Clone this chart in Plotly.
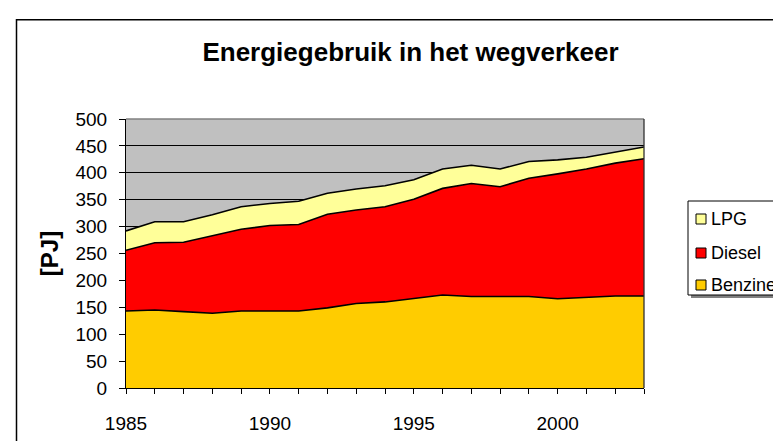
import plotly.graph_objects as go

years = list(range(1985, 2004))
benzine = [143, 145, 142, 139, 143, 143, 143, 149, 157, 160, 166, 173, 170, 170, 170, 166, 169, 171, 171]
diesel = [113, 125, 129, 144, 152, 159, 161, 174, 174, 177, 185, 198, 210, 204, 220, 232, 238, 247, 255]
lpg = [36, 39, 38, 39, 42, 41, 43, 39, 39, 39, 36, 36, 34, 33, 31, 26, 22, 21, 22]

series_names = ["Benzine", "Diesel", "LPG"]
series_values = [benzine, diesel, lpg]
series_colors = ["#FFCC00", "#FF0000", "#FFFF99"]
xtick_text = [str(y) if y % 5 == 0 else "" for y in years]
yticks = list(range(0, 501, 50))

FONT = "Liberation Sans, Arial, sans-serif"

# plot-area geometry in pixels (used to place paper-referenced decorations)
L, R, T, B = 118, 636, 111, 380
W, H = R - L, B - T


def px(x):
    return (x - L) / W


def py(y):
    return (B - y) / H


fig = go.Figure()
for name, vals, col in zip(series_names, series_values, series_colors):
    fig.add_trace(go.Scatter(
        x=years, y=vals, name=name, stackgroup="one", mode="lines",
        line=dict(color="black", width=1.6), fillcolor=col, showlegend=False,
        hoverinfo="x+y+name"))

shapes = [
    # outer chart frame
    dict(type="rect", xref="paper", yref="paper", x0=px(8.5), x1=px(790),
         y0=py(450), y1=py(11.7), line=dict(color="black", width=1.5), layer="below"),
    # legend shadow
    dict(type="rect", xref="paper", yref="paper", x0=px(683), x1=px(800),
         y0=py(290), y1=py(196), line=dict(width=0), fillcolor="#808080", layer="below"),
    # legend box
    dict(type="rect", xref="paper", yref="paper", x0=px(680), x1=px(800),
         y0=py(287), y1=py(193), line=dict(color="black", width=1),
         fillcolor="white", layer="below"),
    # plot area border top/right
    dict(type="line", xref="paper", yref="paper", x0=0, x1=1, y0=1, y1=1,
         line=dict(color="#808080", width=1.5), layer="above"),
    dict(type="line", xref="paper", yref="paper", x0=1, x1=1, y0=0, y1=1,
         line=dict(color="#303030", width=1.3), layer="above"),
]
annotations = []
row_y = [211, 245, 277]
for yc, name, col in zip(row_y, series_names[::-1], series_colors[::-1]):
    shapes.append(dict(type="rect", xref="paper", yref="paper", x0=px(688), x1=px(698),
                       y0=py(yc + 5), y1=py(yc - 5), line=dict(color="black", width=1),
                       fillcolor=col, layer="above"))
    annotations.append(dict(text=name, xref="paper", yref="paper", x=px(702), y=py(yc),
                            xanchor="left", yanchor="middle", showarrow=False,
                            borderpad=0,
                            font=dict(size=18, family=FONT, color="black")))

fig.update_layout(
    width=781, height=441,
    margin=dict(l=L, r=781 - R, t=T, b=441 - B, autoexpand=False),
    paper_bgcolor="white", plot_bgcolor="#C0C0C0",
    font=dict(family=FONT, size=19, color="black"),
    title=dict(text="<b>Energiegebruik in het wegverkeer</b>", x=402.5 / 781, xanchor="center",
               y=1 - 44 / 441, yanchor="middle", font=dict(size=26, family=FONT)),
    showlegend=False,
    xaxis=dict(range=[1985, 2003], tickvals=years, ticktext=xtick_text, ticks="outside",
               ticklen=5, tickcolor="black", showline=True, linecolor="black", linewidth=1,
               showgrid=False, zeroline=False, ticklabelstandoff=13),
    yaxis=dict(range=[0, 500], tickvals=yticks, ticks="outside", ticklen=6, tickcolor="black",
               showline=True, linecolor="black", linewidth=1, showgrid=True, gridcolor="black",
               gridwidth=1, zeroline=False, ticklabelstandoff=8,
               title=dict(text="<b>[PJ]</b>", font=dict(size=24, family=FONT), standoff=10)),
    shapes=shapes,
    annotations=annotations,
)

fig.write_html("out.html")
